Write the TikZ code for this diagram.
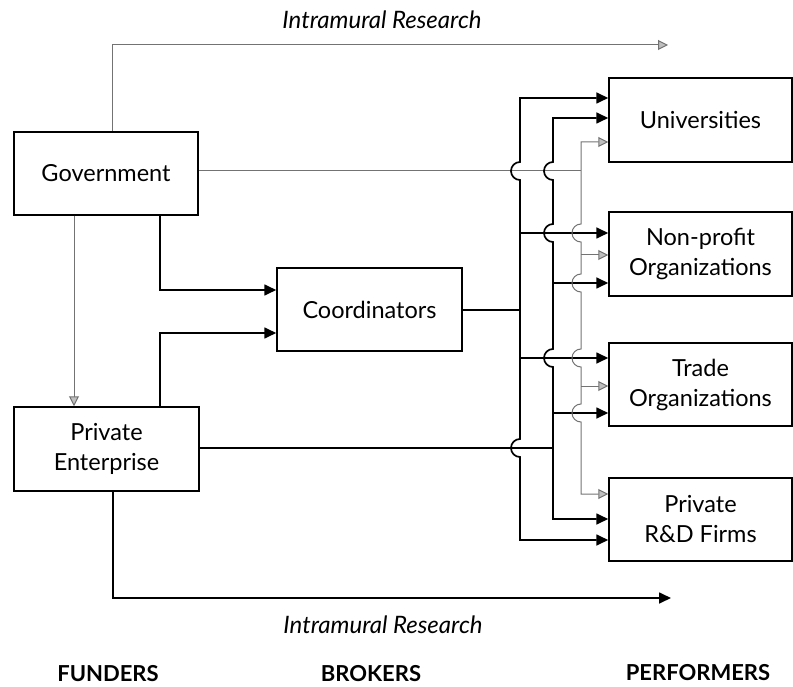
\documentclass[tikz,border=0pt]{standalone}
\usepackage{fontspec}
\setmainfont{Lato}
\usetikzlibrary{arrows.meta}
\begin{document}
\begin{tikzpicture}[x=1pt,y=1pt,
  box/.style={draw, line width=1.5pt, minimum width=184pt, minimum height=83pt,
    align=center, inner sep=0pt, font=\fontsize{23.5}{30}\selectfont},
  blkline/.style={line width=1.7pt},
  blk/.style={blkline, -{Triangle[length=12pt,width=11pt]}},
  blk2/.style={blkline, {Triangle[length=12pt,width=11pt]}-{Triangle[length=12pt,width=11pt]}},
  gryline/.style={draw=black!55, line width=1pt},
  gry/.style={gryline, -{Triangle[open,length=10pt,width=10pt,fill=black!25]}},
  gry2/.style={gryline, {Triangle[open,length=10pt,width=10pt,fill=black!25]}-{Triangle[open,length=10pt,width=10pt,fill=black!25]}},
  lbl/.style={font=\fontsize{24}{28}\selectfont\itshape, inner sep=0pt},
  hdr/.style={font=\fontsize{22}{26}\selectfont\bfseries, inner sep=0pt, anchor=base}
]
\useasboundingbox (0,0) rectangle (793,-687);

% nodes
\node[box] (gov) at (106,-173.5) {Government};
\node[box, minimum width=185pt, minimum height=84pt] (pe) at (106.5,-449) {Private\\Enterprise};
\node[box, minimum width=185pt] (coord) at (369.5,-309.5) {Coordinators};
\node[box, minimum width=183pt, minimum height=84pt] (univ) at (700.5,-120) {Universities};
\node[box, minimum width=183pt, minimum height=84pt] (npo) at (700.5,-254) {Non-profit\\Organizations};
\node[box, minimum width=183pt] (trade) at (700.5,-384.5) {Trade\\Organizations};
\node[box, minimum width=183pt] (rnd) at (700.5,-519.5) {Private\\R\&D Firms};

\node[lbl] (toplbl) at (382,-20) {Intramural Research};
\node[lbl] (botlbl) at (383,-625) {Intramural Research};
\node[hdr] (fund) at (108,-681) {FUNDERS};
\node[hdr] (brok) at (371,-681) {BROKERS};
\node[hdr] (perf) at (698,-680) {PERFORMERS};

% bus coordinates
\coordinate (a1) at (520,-98);  \coordinate (a2) at (520,-233);
\coordinate (a3) at (520,-358); \coordinate (a4) at (520,-540);
\coordinate (aj) at (520,-310);
\coordinate (b1) at (553,-118); \coordinate (b2) at (553,-283);
\coordinate (b3) at (553,-413); \coordinate (b4) at (553,-519);
\coordinate (bj) at (553,-448);
\coordinate (c1) at (581,-142); \coordinate (c2) at (581,-255);
\coordinate (c3) at (581,-386); \coordinate (c4) at (581,-494);
\coordinate (cj) at (581,-171);

% funders to coordinators
\coordinate (g1) at (160,-290);
\coordinate (p1) at (160,-333);
\coordinate (g2) at (74,-300);
\draw[blk] (gov.south -| g1) -- (g1) -- (g1 -| coord.west);
\draw[blk] (pe.north -| p1) -- (p1) -- (p1 -| coord.west);
\draw[gry] (gov.south -| g2) -- (pe.north -| g2);

% intramural research
\coordinate (t1) at (112,-45);
\coordinate (t2) at (668,-45);
\draw[gry] (gov.north -| t1) -- (t1) -- (t2);
\coordinate (u1) at (113,-598);
\coordinate (u2) at (671,-598);
\draw[blk] (pe.south -| u1) -- (u1) -- (u2);

% feeders to buses
\draw[gryline] (gov.east |- cj) -- (cj);
\draw[blkline] (coord.east |- aj) -- (aj);
\draw[blkline] (pe.east |- bj) -- (bj);

% branch arrows
\draw[blk] (a2) -- (a2 -| npo.west);
\draw[blk] (a3) -- (a3 -| trade.west);
\draw[blk] (b2) -- (b2 -| npo.west);
\draw[blk] (b3) -- (b3 -| trade.west);
\draw[gry] (c2) -- (c2 -| npo.west);
\draw[gry] (c3) -- (c3 -| trade.west);

% buses with line jumps
\draw[blk2] (a1 -| univ.west) -- (a1) -- (520,-162) arc[start angle=90,end angle=270,radius=9]
  -- (520,-439) arc[start angle=90,end angle=270,radius=9]
  -- (a4) -- (a4 -| rnd.west);
\draw[blk2] (b1 -| univ.west) -- (b1) -- (553,-162) arc[start angle=90,end angle=270,radius=9]
  -- (553,-224) arc[start angle=90,end angle=270,radius=9]
  -- (553,-349) arc[start angle=90,end angle=270,radius=9]
  -- (b4) -- (b4 -| rnd.west);
\draw[gry2] (c1 -| univ.west) -- (c1) -- (581,-224) arc[start angle=90,end angle=270,radius=9]
  -- (581,-274) arc[start angle=90,end angle=270,radius=9]
  -- (581,-349) arc[start angle=90,end angle=270,radius=9]
  -- (581,-404) arc[start angle=90,end angle=270,radius=9]
  -- (c4) -- (c4 -| rnd.west);
\end{tikzpicture}
\end{document}
